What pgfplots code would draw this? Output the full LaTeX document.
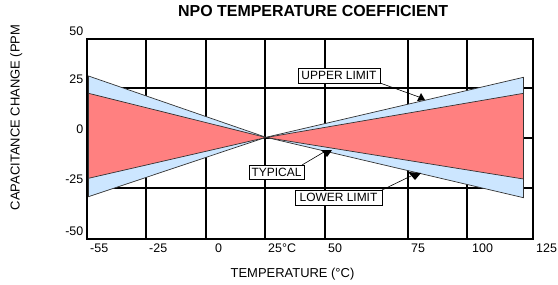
\documentclass[border=0pt]{standalone}
\usepackage{pgfplots}
\pgfplotsset{compat=1.18}
\usepackage{fontspec}
\setmainfont{Liberation Sans}
\definecolor{limblue}{RGB}{204,230,255}
\definecolor{typred}{RGB}{255,128,128}
\begin{document}
\begin{tikzpicture}[x=1bp,y=1bp]
\begin{axis}[
  at={(87bp,45bp)}, anchor=south west,
  scale only axis, width=446bp, height=200bp,
  xmin=87, xmax=533, ymin=-50.65, ymax=49.35,
  xtick={87,146,206,265,325,408,467,533},
  xticklabels={-55,-25,\hspace{6bp}0,25°C,50,75,\hspace{2bp}100,125},
  xticklabel style={anchor=north west, inner sep=0pt, xshift=3bp, yshift=-4.5bp, font=\fontsize{12.5}{14}\selectfont},
  ytick={-50.65,-25,0,25,49.35},
  yticklabels={-50,-25,0,25,50},
  yticklabel style={anchor=east, inner sep=0pt, xshift=-3.5bp, yshift=8bp, font=\fontsize{12.5}{14}\selectfont},
  major tick length=0pt,
  grid=major, grid style={black, line width=1.9bp},
  axis line style={black, line width=2.8bp},
  title={NPO TEMPERATURE COEFFICIENT},
  title style={at={(axis description cs:0.507,1.1115)}, anchor=base, yshift=-6pt, inner sep=0pt, font=\fontsize{16}{18}\selectfont\bfseries},
  xlabel={TEMPERATURE (°C)},
  xlabel style={at={(axis description cs:0.4608,-0.1925)}, anchor=base, inner sep=0pt, font=\fontsize{13}{15}\selectfont},
  ylabel={CAPACITANCE CHANGE (PPM},
  ylabel style={at={(axis description cs:-0.1513,0.6075)}, anchor=base, inner sep=0pt, font=\fontsize{13}{15}\selectfont},
]
\addplot[fill=limblue, draw=black!80, line width=0.7bp] coordinates {(88.5,30.85) (266,0.2) (523.5,30.2) (523.5,-30) (266,0.2) (88.5,-29.5)} -- cycle;
\addplot[fill=typred, draw=black!80, line width=0.7bp] coordinates {(88.5,22.2) (266,0.1) (523.5,22.2) (523.5,-20.65) (266,0.1) (88.5,-20.3)} -- cycle;
% annotations
\draw[line width=0.6bp] (axis cs:380,27.35) -- (axis cs:419,20.35);
\fill (axis cs:417,18.35) -- (axis cs:421,22.35) -- (axis cs:425,18.85) -- cycle;
\draw[fill=white, line width=0.6bp] (axis cs:298,34.85) rectangle (axis cs:380,27.35);
\node[font=\fontsize{12}{14}\selectfont, inner sep=0pt] at (axis cs:339,31.1) {UPPER LIMIT};
\draw[line width=0.6bp] (axis cs:302,-13.65) -- (axis cs:324,-7.15);
\fill (axis cs:321,-6.15) -- (axis cs:332,-6.15) -- (axis cs:327,-9.65) -- cycle;
\draw[fill=white, line width=0.6bp] (axis cs:249,-13.65) rectangle (axis cs:304,-20.65);
\node[font=\fontsize{12}{14}\selectfont, inner sep=0pt] at (axis cs:276.5,-17.15) {TYPICAL};
\draw[line width=0.6bp] (axis cs:382,-26.15) -- (axis cs:411,-19.15);
\fill (axis cs:408,-17.15) -- (axis cs:421,-17.65) -- (axis cs:415,-21.15) -- cycle;
\draw[fill=white, line width=0.6bp] (axis cs:295,-26.15) rectangle (axis cs:382,-33.65);
\node[font=\fontsize{12}{14}\selectfont, inner sep=0pt] at (axis cs:338.5,-29.9) {LOWER LIMIT};
\end{axis}
\pgfresetboundingbox
\useasboundingbox (0,0) rectangle (558,284);
\end{tikzpicture}
\end{document}
